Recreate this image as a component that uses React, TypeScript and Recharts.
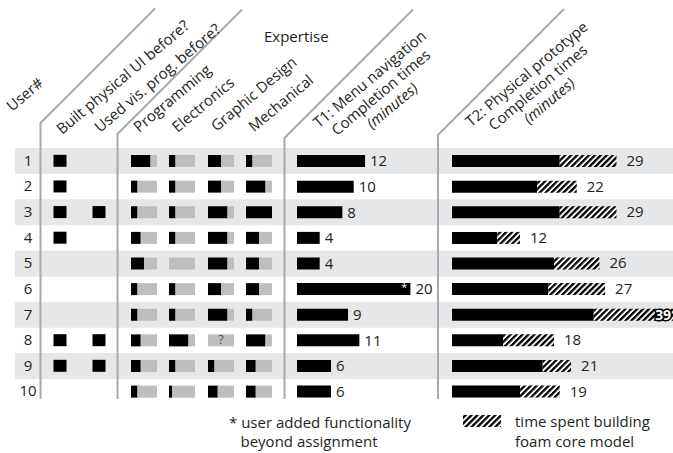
import React from "react";
import {
  BarChart,
  Bar,
  XAxis,
  YAxis,
  LabelList,
  ScatterChart,
  Scatter,
} from "recharts";

// one entry per user, top to bottom
const users = ["1", "2", "3", "4", "5", "6", "7", "8", "9", "10"];
const builtPhysicalUI = [1, 1, 1, 1, 0, 0, 0, 1, 1, 0];
const usedVisProg = [0, 0, 1, 0, 0, 0, 0, 1, 1, 0];

// self-rated expertise, out of 8
const expertiseMax = 8;
const programming = [6, 2, 2, 3, 4, 2, 2, 3, 3, 2];
const electronics = [2, 2, 2, 2, 0, 2, 2, 6, 2, 1];
const graphicDesign = [4, 4, 6, 6, 6, 4, 6, 0, 2, 3];
const mechanical = [2, 6, 8, 4, 4, 4, 2, 6, 3, 3];
const graphicUnknown = [0, 0, 0, 0, 0, 0, 0, 1, 0, 0];

// completion times (minutes)
const t1Minutes = [12, 10, 8, 4, 4, 20, 9, 11, 6, 6];
const t1AddedFunctionality = [0, 0, 0, 0, 0, 1, 0, 0, 0, 0];
const t2Minutes = [29, 22, 29, 12, 26, 27, 39, 18, 21, 19];
const t2FoamMinutes = [10, 7, 10, 4, 8, 10, 14, 9, 5, 7];

const expertise: Record<string, number[]> = {
  programming,
  electronics,
  graphicDesign,
  mechanical,
};

const rows = users.map((user, i) => {
  const row: any = {
    user,
    band: i % 2 === 0 ? 1 : 0,
    unknown: graphicUnknown[i] ? "?" : "",
    t1: t1Minutes[i],
    star: t1AddedFunctionality[i] ? "*" : "",
    t2: t2Minutes[i],
    t2Build: t2Minutes[i] - t2FoamMinutes[i],
    t2Foam: t2FoamMinutes[i],
  };
  Object.keys(expertise).forEach((k) => {
    row[k] = expertise[k][i];
    row[k + "Rest"] = expertiseMax - expertise[k][i];
  });
  return row;
});

const builtPoints = users
  .map((u, i) => ({ col: 0, row: i + 1, on: builtPhysicalUI[i] }))
  .filter((p) => p.on);
const usedPoints = users
  .map((u, i) => ({ col: 1, row: i + 1, on: usedVisProg[i] }))
  .filter((p) => p.on);

const TOP = 148.3;
const ROW_H = 25.625;
const TABLE_H = ROW_H * users.length;
const PX_PER_MIN = 5.67;
const T1_MAX = 20;
const T2_MAX = 39;
const T2_W = T2_MAX * PX_PER_MIN;

const INK = "#231f20";
const BAND = "#e6e7e8";
const LIGHT = "#bcbec0";
const RULE = "#a7a9ac";
const FONT = "'Open Sans', sans-serif";
const noMargin = { top: 0, right: 0, bottom: 0, left: 0 };

const vbOf = (p: any) => p.viewBox ?? p;

const UserTick = ({ y, payload }: any) => (
  <text x={13} y={y} dy={5} textAnchor="middle" fontSize={15} fill={INK}>
    {payload.value}
  </text>
);

const QuestionMark = (p: any) => {
  if (!p.value) return null;
  const vb = vbOf(p);
  return (
    <text x={13} y={vb.y + vb.height / 2 + 4} textAnchor="middle" fontSize={12} fill="#444">
      {p.value}
    </text>
  );
};

const StarMark = (p: any) => {
  if (!p.value) return null;
  const vb = vbOf(p);
  return (
    <text x={vb.x + vb.width - 3} y={vb.y + 8} textAnchor="end" fontSize={11} fill="#fff">
      {p.value}
    </text>
  );
};

const T2Label = (p: any) => {
  const vb = vbOf(p);
  const end = vb.x + vb.width;
  const cy = vb.y + vb.height / 2 + 5;
  if (end + 24 > T2_W) {
    return (
      <text
        x={end - 2}
        y={cy}
        textAnchor="end"
        fontSize={14}
        fontWeight="bold"
        fill="#fff"
        stroke="#000"
        strokeWidth={3}
        paintOrder="stroke"
      >
        {p.value}
      </text>
    );
  }
  return (
    <text x={end + 10} y={cy} fontSize={15} fill={INK}>
      {p.value}
    </text>
  );
};

function ExpertiseColumn({ left, dataKey }: { left: number; dataKey: string }) {
  return (
    <div style={{ position: "absolute", left, top: TOP }}>
      <BarChart layout="vertical" width={26} height={TABLE_H} data={rows} margin={noMargin}>
        <XAxis type="number" domain={[0, expertiseMax]} hide />
        <YAxis type="category" dataKey="user" hide />
        <Bar dataKey={dataKey} stackId="e" fill="#000" barSize={12} isAnimationActive={false} />
        <Bar dataKey={dataKey + "Rest"} stackId="e" fill={LIGHT} barSize={12} isAnimationActive={false}>
          {dataKey === "graphicDesign" && <LabelList dataKey="unknown" content={QuestionMark} />}
        </Bar>
      </BarChart>
    </div>
  );
}

const square = (p: any) => (
  <rect x={p.cx - 6.5} y={p.cy - 6} width={13} height={12} fill="#000" />
);

const Rotated = ({ x, y, children }: any) => (
  <text x={x} y={y} transform={`rotate(-40 ${x} ${y})`} fontSize={15} fill={INK}>
    {children}
  </text>
);

const Block = ({ x, y, lines }: { x: number; y: number; lines: string[] }) => (
  <g transform={`translate(${x} ${y}) rotate(-40)`}>
    {lines.map((l, i) => (
      <text
        key={l}
        x={0}
        y={i * 17.5}
        textAnchor="middle"
        fontSize={15}
        fill={INK}
        fontStyle={i === 2 ? "italic" : "normal"}
      >
        {l}
      </text>
    ))}
  </g>
);

export default function App() {
  return (
    <div
      style={{
        position: "absolute",
        left: 0,
        top: 0,
        width: 673,
        height: 453,
        overflow: "hidden",
        background: "#fff",
        fontFamily: FONT,
      }}
    >
      {/* row bands and user numbers */}
      <div style={{ position: "absolute", left: 15, top: TOP }}>
        <BarChart layout="vertical" width={658} height={TABLE_H} data={rows} margin={noMargin} barCategoryGap={0}>
          <XAxis type="number" domain={[0, 1]} hide />
          <YAxis
            type="category"
            dataKey="user"
            mirror
            axisLine={false}
            tickLine={false}
            interval={0}
            tick={<UserTick />}
          />
          <Bar dataKey="band" fill={BAND} isAnimationActive={false} />
        </BarChart>
      </div>

      {/* header rules and titles */}
      <svg width={673} height={453} style={{ position: "absolute", left: 0, top: 0 }}>
        <defs>
          <pattern id="hatchKey" patternUnits="userSpaceOnUse" width={4.2} height={4.2} patternTransform="rotate(45)">
            <rect width={4.2} height={4.2} fill="#fff" />
            <rect width={2.3} height={4.2} fill="#000" />
          </pattern>
        </defs>
        <g stroke={RULE} strokeWidth={2} fill="none">
          <polyline points="40.5,399 40.5,123 155,8.5" />
          <polyline points="117.5,399 117.5,134 242,9.5" />
          <polyline points="284.5,399 284.5,138 413,9.5" />
          <polyline points="438,399 438,135 564,9" />
        </g>
        <Rotated x={12} y={112}>User#</Rotated>
        <Rotated x={62} y={135}>Built physical UI before?</Rotated>
        <Rotated x={100} y={133}>Used vis. prog. before?</Rotated>
        <Rotated x={139} y={133}>Programming</Rotated>
        <Rotated x={177.5} y={133}>Electronics</Rotated>
        <Rotated x={216.5} y={132}>Graphic Design</Rotated>
        <Rotated x={254} y={132.5}>Mechanical</Rotated>
        <text x={264} y={41.5} fontSize={15} fill={INK}>Expertise</text>
        <Block x={373} y={83} lines={["T1: Menu navigation", "Completion times", "(minutes)"]} />
        <Block x={530} y={78} lines={["T2: Physical prototype", "Completion times", "(minutes)"]} />

        {/* notes */}
        <text x={229} y={428} fontSize={15} fill={INK}>* user added functionality</text>
        <text x={240.5} y={447} fontSize={15} fill={INK}>beyond assignment</text>
        <rect x={463} y={415} width={38} height={12} fill="url(#hatchKey)" />
        <text x={515} y={427} fontSize={15} fill={INK}>time spent building</text>
        <text x={515} y={447} fontSize={15} fill={INK}>foam core model</text>
      </svg>

      {/* prior experience squares */}
      <div style={{ position: "absolute", left: 50, top: TOP }}>
        <ScatterChart width={59} height={TABLE_H} margin={{ top: 0, right: 10, bottom: 0, left: 10 }}>
          <XAxis type="number" dataKey="col" domain={[0, 1]} hide />
          <YAxis type="number" dataKey="row" domain={[0.5, users.length + 0.5]} reversed hide />
          <Scatter data={builtPoints} shape={square} isAnimationActive={false} />
          <Scatter data={usedPoints} shape={square} isAnimationActive={false} />
        </ScatterChart>
      </div>

      <ExpertiseColumn left={130.7} dataKey="programming" />
      <ExpertiseColumn left={169.3} dataKey="electronics" />
      <ExpertiseColumn left={207.7} dataKey="graphicDesign" />
      <ExpertiseColumn left={246.3} dataKey="mechanical" />

      {/* T1 */}
      <div style={{ position: "absolute", left: 297.3, top: TOP }}>
        <BarChart
          layout="vertical"
          width={T1_MAX * PX_PER_MIN + 40}
          height={TABLE_H}
          data={rows}
          margin={{ top: 0, right: 40, bottom: 0, left: 0 }}
        >
          <XAxis type="number" domain={[0, T1_MAX]} hide />
          <YAxis type="category" dataKey="user" hide />
          <Bar dataKey="t1" fill="#000" barSize={12} isAnimationActive={false}>
            <LabelList dataKey="t1" position="right" offset={5} fill={INK} fontSize={15} />
            <LabelList dataKey="star" content={StarMark} />
          </Bar>
        </BarChart>
      </div>

      {/* T2 */}
      <div style={{ position: "absolute", left: 451.7, top: TOP }}>
        <BarChart layout="vertical" width={T2_W} height={TABLE_H} data={rows} margin={noMargin}>
          <defs>
            <pattern id="hatch" patternUnits="userSpaceOnUse" width={4.2} height={4.2} patternTransform="rotate(45)">
              <rect width={4.2} height={4.2} fill="#fff" />
              <rect width={2.3} height={4.2} fill="#000" />
            </pattern>
          </defs>
          <XAxis type="number" domain={[0, T2_MAX]} hide />
          <YAxis type="category" dataKey="user" hide />
          <Bar dataKey="t2Build" stackId="t2" fill="#000" barSize={12} isAnimationActive={false} />
          <Bar dataKey="t2Foam" stackId="t2" fill="url(#hatch)" barSize={12} isAnimationActive={false}>
            <LabelList dataKey="t2" content={T2Label} />
          </Bar>
        </BarChart>
      </div>
    </div>
  );
}
